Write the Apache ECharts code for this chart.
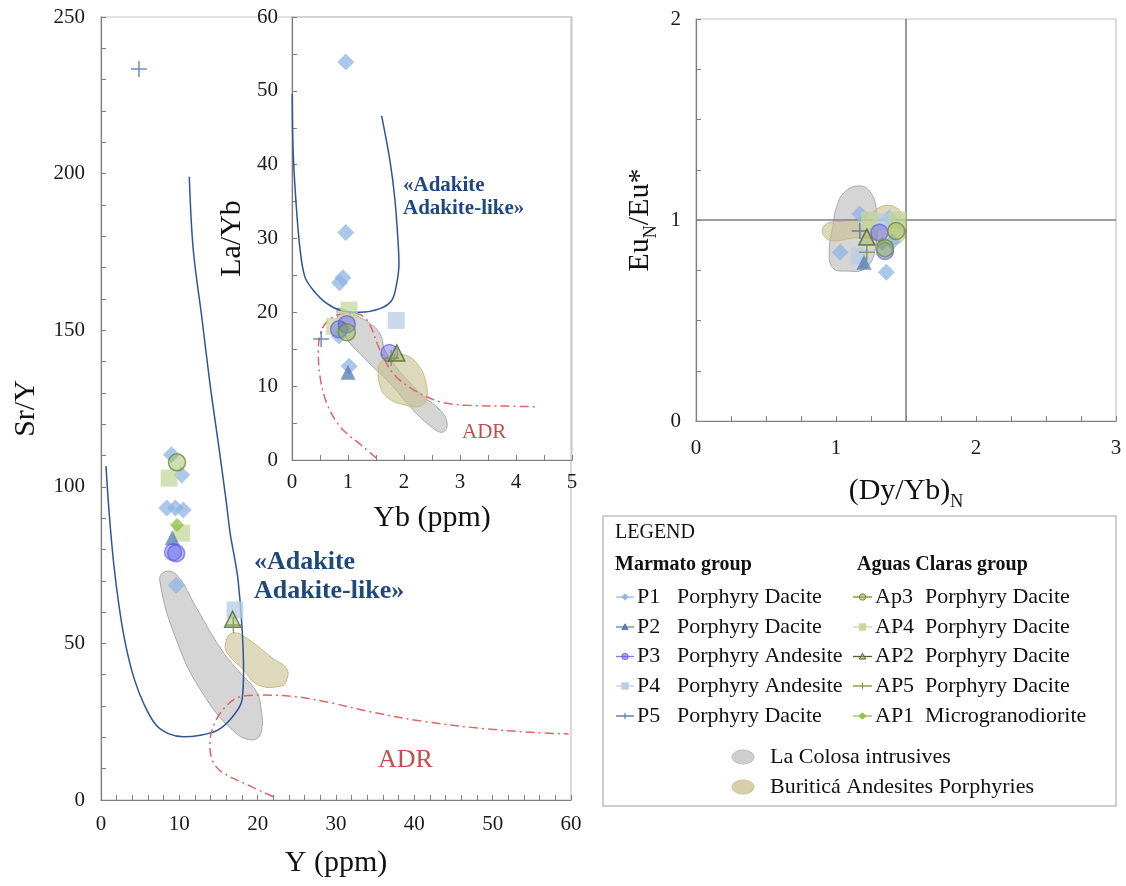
<!DOCTYPE html>
<html>
<head>
<meta charset="utf-8">
<script src="https://cdn.jsdelivr.net/npm/echarts@6/dist/echarts.min.js"></script>
<style>
  html, body { margin: 0; padding: 0; background: #fff; }
  #chart { width: 1126px; height: 886px; }
</style>
</head>
<body>
<div id="chart"></div>
<script>
// ---------- Sr/Y vs Y (ppm) ----------
const p1SrY  = [[9.0, 110.2], [10.3, 103.8], [8.4, 93.2], [9.5, 93.2], [10.5, 92.6], [9.6, 68.6]];
const p2SrY  = [[9.1, 83.7]];
const p3SrY  = [[9.2, 79.2], [9.6, 78.8]];
const p4SrY  = [[17.1, 60.7]];
const p5SrY  = [[4.85, 233.4]];
const ap3SrY = [[9.7, 107.8]];
const ap4SrY = [[8.7, 102.8], [10.3, 85.2]];
const ap2SrY = [[16.8, 57.7]];
const ap5SrY = [[16.9, 55.9]];
const ap1SrY = [[9.7, 87.8]];

// field outlines, Sr/Y diagram
const adakiteSrY = [[0.64, 106.6], [1.0, 93.0], [1.6, 76.0], [2.3, 62.0], [3.1, 50.1], [4.2, 39.0], [5.5, 30.5], [7.0, 24.0], [8.6, 21.2], [10.5, 20.2], [12.5, 20.6], [14.9, 22.3], [16.8, 26.6], [18.0, 31.9], [18.2, 41.5], [18.0, 55.3], [17.5, 70.2], [17.1, 76.6], [16.5, 85.0], [15.96, 95.8], [14.97, 114.0], [13.9, 133.1], [12.86, 154.3], [11.78, 175.6], [11.27, 199.0]];
const adrSrY = [[22.0, 1.05], [19.2, 4.25], [15.4, 9.0], [14.2, 12.8], [13.9, 18.1], [14.5, 24.5], [15.9, 29.8], [17.8, 33.0], [20.6, 33.5], [24.8, 33.0], [29.6, 30.9], [34.3, 28.2], [41.4, 25.0], [48.4, 22.9], [55.5, 21.5], [59.7, 21.1]];
const colosaSrY = [[8.3, 73.0], [7.5, 70.2], [9.8, 50.0], [13.0, 34.0], [16.8, 22.3], [19.2, 19.2], [20.4, 21.3], [20.4, 29.8], [19.7, 35.1], [17.8, 40.5], [15.4, 47.9], [12.1, 61.7], [9.8, 71.5]];
const buriticaSrY = [[15.9, 50.0], [16.6, 53.1], [18.0, 52.6], [22.0, 45.1], [23.7, 41.9], [23.7, 38.3], [23.0, 36.4], [20.1, 36.7], [18.2, 41.5], [16.1, 47.0]];

// ---------- La/Yb vs Yb (ppm) ----------
const p1LaYb  = [[0.96, 53.9], [0.96, 30.8], [0.91, 24.7], [0.85, 24.0], [1.02, 12.7], [0.84, 16.8]];
const p2LaYb  = [[1.0, 11.9]];
const p3LaYb  = [[0.98, 18.4], [0.84, 17.7], [1.74, 14.5]];
const p4LaYb  = [[1.86, 18.9]];
const p5LaYb  = [[0.52, 16.4]];
const ap3LaYb = [[0.98, 17.3]];
const ap4LaYb = [[1.02, 20.3], [0.76, 18.1]];
const ap2LaYb = [[1.87, 14.5]];
const ap5LaYb = [[1.77, 13.8]];
const ap1LaYb = [[0.93, 17.8]];

const adakiteLaYb = [[0.005, 49.6], [0.02, 41.9], [0.07, 35.1], [0.14, 28.8], [0.23, 24.8], [0.38, 23.0], [0.62, 21.2], [0.89, 20.2], [1.21, 20.0], [1.57, 20.5], [1.78, 21.6], [1.87, 23.9], [1.91, 26.6], [1.90, 28.8], [1.84, 35.1], [1.75, 40.5], [1.60, 46.6]];
const adrLaYb = [[1.51, 0.23], [1.27, 1.8], [0.86, 4.5], [0.62, 7.7], [0.5, 11.3], [0.47, 14.9], [0.53, 17.6], [0.68, 19.1], [0.92, 19.8], [1.16, 19.8], [1.36, 18.7], [1.57, 14.9], [1.81, 11.7], [2.17, 9.5], [2.64, 7.9], [3.12, 7.4], [3.83, 7.3], [4.40, 7.2]];
const colosaLaYb = [[0.80, 20.4], [0.92, 17.1], [1.33, 13.5], [1.75, 10.4], [2.11, 7.2], [2.52, 4.3], [2.70, 3.8], [2.77, 5.0], [2.64, 6.8], [2.29, 9.0], [1.69, 14.4], [1.57, 17.1], [1.39, 18.5], [1.09, 19.8], [0.89, 20.5]];
const buriticaLaYb = [[1.57, 13.1], [1.75, 14.1], [2.02, 14.2], [2.26, 12.8], [2.38, 10.8], [2.41, 8.55], [2.32, 7.4], [2.05, 7.4], [1.69, 8.55], [1.56, 10.4], [1.54, 12.2]];

// ---------- EuN/Eu* vs (Dy/Yb)N ----------
const p1Eu  = [[1.17, 1.03], [1.03, 0.84], [1.38, 1.01], [1.36, 0.74], [1.40, 0.89]];
const p2Eu  = [[1.20, 0.79]];
const p3Eu  = [[1.31, 0.937], [1.35, 0.846]];
const p4Eu  = [[1.17, 0.82], [1.33, 0.99]];
const p5Eu  = [[1.17, 0.945]];
const ap3Eu = [[1.43, 0.945], [1.35, 0.86]];
const ap4Eu = [[1.24, 1.0], [1.44, 1.0]];
const ap2Eu = [[1.22, 0.915]];
const ap5Eu = [[1.22, 0.84]];
const ap1Eu = [[1.33, 0.88]];

const colosaEu = [[1.167, 1.169], [1.07, 1.144], [1.01, 1.078], [0.976, 0.962], [0.952, 0.846], [0.976, 0.763], [1.07, 0.746], [1.215, 0.763], [1.286, 0.879], [1.286, 1.061], [1.238, 1.144]];
const buriticaEu = [[0.904, 0.954], [0.952, 0.987], [1.07, 0.995], [1.21, 1.02], [1.274, 1.045], [1.334, 1.07], [1.43, 1.061], [1.489, 1.003], [1.489, 0.912], [1.405, 0.879], [1.286, 0.904], [1.143, 0.912], [0.976, 0.896], [0.916, 0.920]];
const euRefX = 1.5;
const euRefY = 1;

// ---------- legend text ----------
const marmatoCodes = ['P1', 'P2', 'P3', 'P4', 'P5'];
const marmatoRocks = ['Porphyry Dacite', 'Porphyry Dacite', 'Porphyry Andesite', 'Porphyry Andesite', 'Porphyry Dacite'];
const aguasCodes = ['Ap3', 'AP4', 'AP2', 'AP5', 'AP1'];
const aguasRocks = ['Porphyry Dacite', 'Porphyry Dacite', 'Porphyry Dacite', 'Porphyry Dacite', 'Microgranodiorite'];

const srYData = { P1: p1SrY, P2: p2SrY, P3: p3SrY, P4: p4SrY, P5: p5SrY, Ap3: ap3SrY, AP4: ap4SrY, AP2: ap2SrY, AP5: ap5SrY, AP1: ap1SrY };
const laYbData = { P1: p1LaYb, P2: p2LaYb, P3: p3LaYb, P4: p4LaYb, P5: p5LaYb, Ap3: ap3LaYb, AP4: ap4LaYb, AP2: ap2LaYb, AP5: ap5LaYb, AP1: ap1LaYb };
const euData = { P1: p1Eu, P2: p2Eu, P3: p3Eu, P4: p4Eu, P5: p5Eu, Ap3: ap3Eu, AP4: ap4Eu, AP2: ap2Eu, AP5: ap5Eu, AP1: ap1Eu };

const FONT = 'Liberation Serif';
const PLUS = 'path://M5,0 L5,10 M0,5 L10,5';

// marker look for each sample group
const look = {
  P1:  { symbol: 'diamond',  size: 17, fill: 'rgba(141,179,226,0.92)', stroke: null },
  P2:  { symbol: 'triangle', size: 15, fill: 'rgba(79,122,180,0.92)',  stroke: null },
  P3:  { symbol: 'circle',   size: 17, fill: 'rgba(95,95,240,0.55)',   stroke: 'rgba(90,90,220,0.8)' },
  P4:  { symbol: 'rect',     size: 17, fill: 'rgba(184,205,230,0.95)', stroke: null },
  P5:  { symbol: PLUS,       size: 16, fill: 'rgba(0,0,0,0)',          stroke: '#4a6fa5' },
  Ap3: { symbol: 'circle',   size: 17, fill: 'rgba(150,185,90,0.6)',   stroke: '#6f8f3a' },
  AP4: { symbol: 'rect',     size: 17, fill: 'rgba(195,214,155,0.92)', stroke: null },
  AP2: { symbol: 'triangle', size: 16, fill: 'rgba(150,185,90,0.6)',   stroke: '#4f6228' },
  AP5: { symbol: PLUS,       size: 16, fill: 'rgba(0,0,0,0)',          stroke: '#77933c' },
  AP1: { symbol: 'diamond',  size: 14, fill: 'rgba(141,190,60,0.92)',  stroke: null }
};
const drawOrder = ['P1', 'P4', 'AP4', 'AP1', 'P2', 'P3', 'P5', 'Ap3', 'AP2', 'AP5'];

function scatter(code, data, idx) {
  const l = look[code];
  return {
    type: 'scatter', name: code, xAxisIndex: idx, yAxisIndex: idx, data,
    symbol: l.symbol, symbolSize: l.size, z: 5, silent: true,
    itemStyle: { color: l.fill, borderColor: l.stroke || 'transparent', borderWidth: l.stroke ? 1.5 : 0 }
  };
}
function field(name, pts, idx, fill, stroke) {
  return {
    type: 'custom', name, xAxisIndex: idx, yAxisIndex: idx, data: pts, z: 2, silent: true,
    renderItem: (params, api) => {
      if (params.dataIndex !== 0) return null;
      return {
        type: 'polygon',
        shape: { points: pts.map(p => api.coord(p)), smooth: 0.45 },
        style: { fill, stroke, lineWidth: 1 }
      };
    }
  };
}
function curve(pts, idx, color, type) {
  return {
    type: 'line', xAxisIndex: idx, yAxisIndex: idx, data: pts, smooth: 0.35,
    symbol: 'none', z: 3, silent: true,
    lineStyle: { color, width: 1.5, type: type || 'solid' }
  };
}

const GRAY_FILL = 'rgba(190,190,190,0.65)', GRAY_LINE = '#a8a8a8';
const TAN_FILL = 'rgba(200,190,145,0.6)', TAN_LINE = '#c9bb7c';
const BLUE_LINE = '#2f5597', RED_LINE = '#e06666';
const ADR_DASH = [9, 4, 2, 4];

const labelStyle = { fontFamily: FONT, fontSize: 21, color: '#1a1a1a' };
const nameStyle = { fontFamily: FONT, fontSize: 30, color: '#111' };
function axis(opts) {
  return Object.assign({
    type: 'value',
    axisLine: { show: true, lineStyle: { color: '#7f7f7f', width: 1.2 } },
    axisTick: { show: true, inside: true, length: 5, lineStyle: { color: '#7f7f7f' } },
    minorTick: { show: true, length: 5, lineStyle: { color: '#7f7f7f' } },
    splitLine: { show: false },
    nameLocation: 'middle',
    nameTextStyle: nameStyle,
    axisLabel: Object.assign({ margin: 14 }, labelStyle)
  }, opts);
}

const series = [];
// main diagram
series.push(field('La Colosa intrusives', colosaSrY, 0, GRAY_FILL, GRAY_LINE));
series.push(field('Buriticá Andesites Porphyries', buriticaSrY, 0, TAN_FILL, TAN_LINE));
series.push(curve(adakiteSrY, 0, BLUE_LINE));
series.push(curve(adrSrY, 0, RED_LINE, ADR_DASH));
drawOrder.forEach(c => series.push(scatter(c, srYData[c], 0)));
// inset diagram
series.push(field('La Colosa intrusives', colosaLaYb, 1, GRAY_FILL, GRAY_LINE));
series.push(field('Buriticá Andesites Porphyries', buriticaLaYb, 1, TAN_FILL, TAN_LINE));
series.push(curve(adakiteLaYb, 1, BLUE_LINE));
series.push(curve(adrLaYb, 1, RED_LINE, ADR_DASH));
drawOrder.forEach(c => series.push(scatter(c, laYbData[c], 1)));
// europium anomaly diagram
const colosaEuSeries = field('La Colosa intrusives', colosaEu, 2, GRAY_FILL, GRAY_LINE);
colosaEuSeries.markLine = {
  silent: true, symbol: 'none', label: { show: false },
  lineStyle: { color: '#808080', width: 1.6, type: 'solid' },
  data: [{ xAxis: euRefX }, { yAxis: euRefY }]
};
series.push(colosaEuSeries);
series.push(field('Buriticá Andesites Porphyries', buriticaEu, 2, TAN_FILL, TAN_LINE));
drawOrder.forEach(c => series.push(scatter(c, euData[c], 2)));

// ---------- legend box ----------
const graphics = [];
const LX = 603, LY = 516;
graphics.push({ type: 'rect', shape: { x: LX, y: LY, width: 513, height: 290 }, style: { fill: '#fff', stroke: '#bfbfbf', lineWidth: 1.5 }, z: 10 });
function txt(text, x, y, size, weight, color) {
  return { type: 'text', z: 11, style: { text, x, y, fontFamily: FONT, fontSize: size, fontWeight: weight || 'normal', fill: color || '#111', align: 'left', verticalAlign: 'middle' } };
}
function legendIcon(code, x1, x2, cy) {
  const l = look[code];
  const c = l.stroke && l.fill === 'rgba(0,0,0,0)' ? l.stroke : (l.stroke || l.fill);
  const cx = (x1 + x2) / 2, r = 3.2;
  graphics.push({ type: 'line', z: 11, shape: { x1, y1: cy, x2, y2: cy }, style: { stroke: c, lineWidth: 1.3 } });
  let m = null;
  if (l.symbol === 'circle') m = { type: 'circle', shape: { cx, cy, r } };
  else if (l.symbol === 'rect') m = { type: 'rect', shape: { x: cx - r, y: cy - r, width: 2 * r, height: 2 * r } };
  else if (l.symbol === 'diamond') m = { type: 'polygon', shape: { points: [[cx, cy - r], [cx + r, cy], [cx, cy + r], [cx - r, cy]] } };
  else if (l.symbol === 'triangle') m = { type: 'polygon', shape: { points: [[cx, cy - r], [cx + r, cy + r * 0.8], [cx - r, cy + r * 0.8]] } };
  else m = { type: 'line', shape: { x1: cx, y1: cy - r, x2: cx, y2: cy + r } };
  m.z = 12;
  m.style = { fill: l.fill === 'rgba(0,0,0,0)' ? null : l.fill, stroke: c, lineWidth: 1 };
  graphics.push(m);
}
graphics.push(txt('LEGEND', 615, 533, 20));
graphics.push(txt('Marmato group', 615, 565, 20, 'bold'));
graphics.push(txt('Aguas Claras group', 857, 565, 20, 'bold'));
const rowY = [597, 627, 656.5, 686, 716];
marmatoCodes.forEach((c, i) => {
  legendIcon(c, 616, 634, rowY[i]);
  graphics.push(txt(c, 637, rowY[i], 22));
  graphics.push(txt(marmatoRocks[i], 677, rowY[i], 22));
});
aguasCodes.forEach((c, i) => {
  legendIcon(c, 853, 872, rowY[i]);
  graphics.push(txt(c, 875, rowY[i], 22));
  graphics.push(txt(aguasRocks[i], 925, rowY[i], 22));
});
graphics.push({ type: 'ellipse', z: 11, shape: { cx: 743, cy: 757, rx: 11, ry: 7 }, style: { fill: 'rgba(190,190,190,0.75)', stroke: '#bdbdbd' } });
graphics.push({ type: 'ellipse', z: 11, shape: { cx: 743, cy: 787, rx: 11, ry: 7 }, style: { fill: 'rgba(200,190,145,0.75)', stroke: '#cfc59a' } });
graphics.push(txt('La Colosa intrusives', 770, 757, 22));
graphics.push(txt('Buriticá Andesites Porphyries', 770, 787, 22));

// field annotations
graphics.push({ type: 'text', z: 11, style: { text: '«Adakite\nAdakite-like»', x: 254, y: 548, fontFamily: FONT, fontSize: 26, fontWeight: 'bold', lineHeight: 29, fill: '#1f497d', verticalAlign: 'top' } });
graphics.push({ type: 'text', z: 11, style: { text: '«Adakite\nAdakite-like»', x: 403, y: 174, fontFamily: FONT, fontSize: 21, fontWeight: 'bold', lineHeight: 23, fill: '#1f497d', verticalAlign: 'top' } });
graphics.push({ type: 'text', z: 11, style: { text: 'ADR', x: 378, y: 760, fontFamily: FONT, fontSize: 26, fill: '#c0504d', verticalAlign: 'middle' } });
graphics.push({ type: 'text', z: 11, style: { text: 'ADR', x: 462, y: 432, fontFamily: FONT, fontSize: 21, fill: '#c0504d', verticalAlign: 'middle' } });

const subRich = {
  a: { fontFamily: FONT, fontSize: 30, color: '#111', lineHeight: 40, verticalAlign: 'middle' },
  s: { fontFamily: FONT, fontSize: 18, color: '#111', lineHeight: 22, verticalAlign: 'bottom' }
};

const option = {
  backgroundColor: '#fff',
  animation: false,
  grid: [
    { left: 101, top: 17, width: 470, height: 783, show: true, borderColor: '#c4c4c4', borderWidth: 1.2, backgroundColor: 'transparent' },
    { left: 292, top: 17, width: 280, height: 443, show: true, borderColor: '#c4c4c4', borderWidth: 1.2, backgroundColor: 'transparent' },
    { left: 696, top: 19, width: 420, height: 402, show: true, borderColor: '#c4c4c4', borderWidth: 1.2, backgroundColor: 'transparent' }
  ],
  xAxis: [
    axis({ gridIndex: 0, min: 0, max: 60, interval: 10, minorTick: { show: true, splitNumber: 5, length: 5, lineStyle: { color: '#7f7f7f' } }, name: 'Y (ppm)', nameGap: 48 }),
    axis({ gridIndex: 1, min: 0, max: 5, interval: 1, minorTick: { show: true, splitNumber: 2, length: 5, lineStyle: { color: '#7f7f7f' } }, name: 'Yb (ppm)', nameGap: 43, axisLabel: Object.assign({ margin: 12 }, labelStyle) }),
    axis({ gridIndex: 2, min: 0, max: 3, interval: 1, minorTick: { show: true, splitNumber: 4, length: 5, lineStyle: { color: '#7f7f7f' } }, name: '{a|(Dy/Yb)}{s|N}', nameGap: 50, nameTextStyle: { rich: subRich }, axisLabel: Object.assign({ margin: 17 }, labelStyle) })
  ],
  yAxis: [
    axis({ gridIndex: 0, min: 0, max: 250, interval: 50, minorTick: { show: true, splitNumber: 5, length: 5, lineStyle: { color: '#7f7f7f' } }, name: 'Sr/Y', nameGap: 60, axisLabel: Object.assign({ margin: 16 }, labelStyle) }),
    axis({ gridIndex: 1, min: 0, max: 60, interval: 10, minorTick: { show: true, splitNumber: 2, length: 5, lineStyle: { color: '#7f7f7f' } }, name: 'La/Yb', nameGap: 45, axisLabel: Object.assign({ margin: 14, backgroundColor: '#fff' }, labelStyle) }),
    axis({ gridIndex: 2, min: 0, max: 2, interval: 1, minorTick: { show: true, splitNumber: 4, length: 5, lineStyle: { color: '#7f7f7f' } }, name: '{a|Eu}{s|N}{a|/Eu*}', nameGap: 36, nameTextStyle: { rich: subRich }, axisLabel: Object.assign({ margin: 15 }, labelStyle) })
  ],
  series,
  graphic: graphics
};

const chart = echarts.init(document.getElementById('chart'), null, { renderer: 'canvas' });
chart.setOption(option);
</script>
</body>
</html>
